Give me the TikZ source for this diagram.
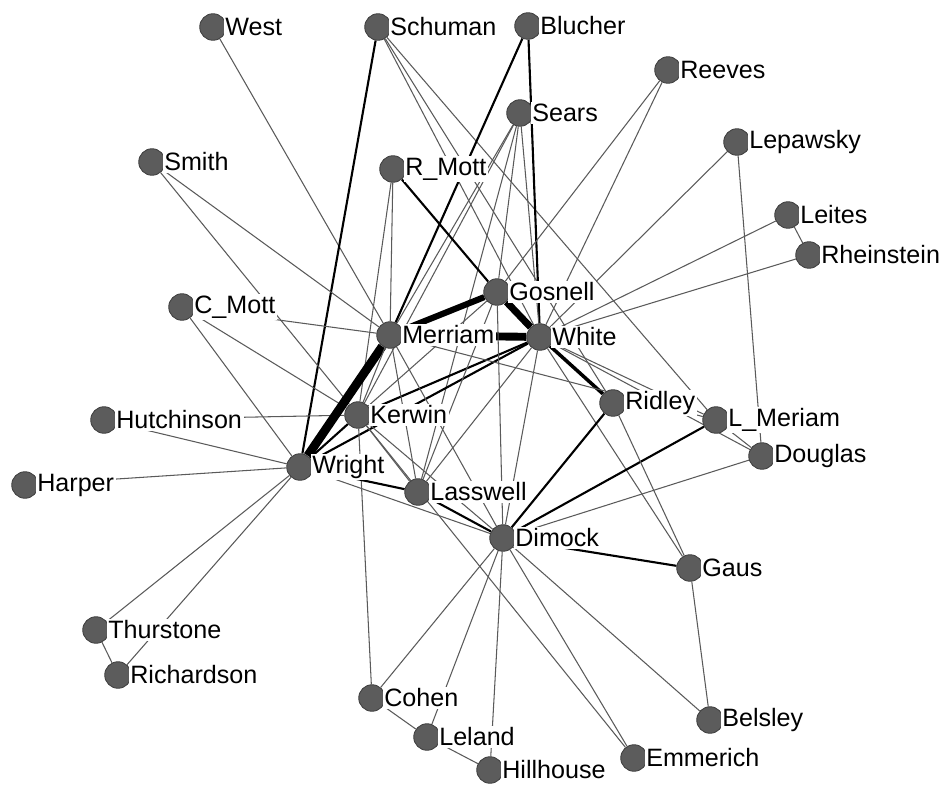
\documentclass[tikz,border=0pt]{standalone}
\usepackage{fontspec}
\setmainfont{Liberation Sans}
\usetikzlibrary{backgrounds}
\definecolor{dotgray}{RGB}{92,92,92}
\definecolor{tiegray}{RGB}{90,90,90}
\tikzset{
  actor/.style={circle, fill=dotgray, draw=black!75, line width=0.5pt, minimum size=0.53cm, inner sep=0pt},
  lbl/.style={fill=white, inner sep=1pt, font=\fontsize{14.3}{17}\selectfont},
  tie/.style={draw=tiegray, line width=0.6pt},
  strong/.style={draw=black, line width=1.2pt},
  heavy/.style={draw=black, line width=2pt},
}
\begin{document}
\begin{tikzpicture}[x=0.02cm, y=-0.02cm, label distance=-2pt]
\useasboundingbox (0,0) rectangle (946,784);
\node[actor, label={[lbl]right:West}] (West) at (213,27){};
\node[actor, label={[lbl]right:Schuman}] (Schuman) at (378,27){};
\node[actor, label={[lbl]right:Blucher}] (Blucher) at (528,26){};
\node[actor, label={[lbl]right:Reeves}] (Reeves) at (668,70){};
\node[actor, label={[lbl]right:Sears}] (Sears) at (520,113){};
\node[actor, label={[lbl]right:Lepawsky}] (Lepawsky) at (737,142){};
\node[actor, label={[lbl]right:Leites}] (Leites) at (788,215){};
\node[actor, label={[lbl]right:Rheinstein}] (Rheinstein) at (809,255){};
\node[actor, label={[lbl]right:Smith}] (Smith) at (152,162){};
\node[actor, label={[lbl]right:R\_Mott}] (RMott) at (393,169){};
\node[actor, label={[lbl]right:C\_Mott}] (CMott) at (182,307){};
\node[actor, label={[lbl]right:Gosnell}] (Gosnell) at (497,292){};
\node[actor, label={[lbl]right:Merriam}] (Merriam) at (390,335){};
\node[actor, label={[lbl]right:White}] (White) at (540,337){};
\node[actor, label={[lbl]right:Hutchinson}] (Hutchinson) at (104,420){};
\node[actor, label={[lbl]right:Kerwin}] (Kerwin) at (358,415){};
\node[actor, label={[lbl]right:Ridley}] (Ridley) at (613,403){};
\node[actor, label={[lbl]right:L\_Meriam}] (LMeriam) at (716,420){};
\node[actor, label={[lbl]right:Douglas}] (Douglas) at (762,456){};
\node[actor, label={[lbl]right:Harper}] (Harper) at (25,485){};
\node[actor, label={[lbl]right:Wright}] (Wright) at (300,467){};
\node[actor, label={[lbl]right:Lasswell}] (Lasswell) at (418,492){};
\node[actor, label={[lbl]right:Dimock}] (Dimock) at (503,538){};
\node[actor, label={[lbl]right:Gaus}] (Gaus) at (690,568){};
\node[actor, label={[lbl]right:Thurstone}] (Thurstone) at (96,630){};
\node[actor, label={[lbl]right:Richardson}] (Richardson) at (118,675){};
\node[actor, label={[lbl]right:Cohen}] (Cohen) at (372,698){};
\node[actor, label={[lbl]right:Belsley}] (Belsley) at (710,720){};
\node[actor, label={[lbl]right:Leland}] (Leland) at (427,737){};
\node[actor, label={[lbl]right:Emmerich}] (Emmerich) at (634,758){};
\node[actor, label={[lbl]right:Hillhouse}] (Hillhouse) at (490,770){};
\begin{pgfonlayer}{background}
\draw[tie](West) -- (Merriam);
\draw[tie](Schuman) -- (White);
\draw[tie](Schuman) -- (Ridley);
\draw[tie](Schuman) -- (LMeriam);
\draw[strong](Schuman) -- (Wright);
\draw[strong](Blucher) -- (Merriam);
\draw[strong](Blucher) -- (White);
\draw[tie](Sears) -- (Merriam);
\draw[tie](Sears) -- (Gosnell);
\draw[tie](Sears) -- (White);
\draw[tie](Sears) -- (Kerwin);
\draw[tie](Sears) -- (Lasswell);
\draw[tie](Reeves) -- (Gosnell);
\draw[tie](Reeves) -- (White);
\draw[tie](Lepawsky) -- (White);
\draw[tie](Lepawsky) -- (Douglas);
\draw[tie](Leites) -- (White);
\draw[tie](Leites) -- (Rheinstein);
\draw[tie](Rheinstein) -- (White);
\draw[tie](Smith) -- (Merriam);
\draw[tie](Smith) -- (Kerwin);
\draw[tie](RMott) -- (Merriam);
\draw[tie](RMott) -- (Kerwin);
\draw[strong](RMott) -- (Gosnell);
\draw[tie](CMott) -- (Merriam);
\draw[tie](CMott) -- (Kerwin);
\draw[tie](CMott) -- (Wright);
\draw[tie](Hutchinson) -- (Kerwin);
\draw[tie](Hutchinson) -- (Wright);
\draw[tie](Harper) -- (Wright);
\draw[tie](Wright) -- (Thurstone);
\draw[tie](Wright) -- (Richardson);
\draw[tie](Thurstone) -- (Richardson);
\draw[line width=5pt](Wright) -- (Merriam);
\draw[line width=3.5pt](Merriam) -- (Gosnell);
\draw[line width=4.5pt](Merriam) -- (White);
\draw[line width=4pt](Gosnell) -- (White);
\draw[heavy](White) -- (Ridley);
\draw[strong](Wright) -- (Kerwin);
\draw[strong](Wright) -- (White);
\draw[strong](Kerwin) -- (White);
\draw[tie](Kerwin) -- (Gosnell);
\draw[tie](Merriam) -- (Kerwin);
\draw[tie](Merriam) -- (Lasswell);
\draw[tie](Merriam) -- (Dimock);
\draw[tie](Merriam) -- (LMeriam);
\draw[tie](Gosnell) -- (Lasswell);
\draw[tie](Gosnell) -- (Dimock);
\draw[tie](White) -- (Lasswell);
\draw[tie](White) -- (Dimock);
\draw[tie](White) -- (LMeriam);
\draw[tie](White) -- (Douglas);
\draw[tie](White) -- (Gaus);
\draw[tie](Kerwin) -- (Lasswell);
\draw[tie](Kerwin) -- (Cohen);
\draw[tie](Kerwin) -- (Emmerich);
\draw[tie](Kerwin) -- (Dimock);
\draw[strong](Wright) -- (Lasswell);
\draw[tie](Wright) -- (Dimock);
\draw[strong](Lasswell) -- (Dimock);
\draw[strong](Dimock) -- (Ridley);
\draw[strong](Dimock) -- (LMeriam);
\draw[strong](Dimock) -- (Gaus);
\draw[tie](Dimock) -- (Douglas);
\draw[tie](LMeriam) -- (Douglas);
\draw[tie](Ridley) -- (Gaus);
\draw[tie](Gaus) -- (Belsley);
\draw[tie](Dimock) -- (Cohen);
\draw[tie](Dimock) -- (Leland);
\draw[tie](Dimock) -- (Hillhouse);
\draw[tie](Dimock) -- (Emmerich);
\draw[tie](Dimock) -- (Belsley);
\draw[tie](Cohen) -- (Leland);
\draw[tie](Leland) -- (Hillhouse);
\end{pgfonlayer}
\end{tikzpicture}
\end{document}
